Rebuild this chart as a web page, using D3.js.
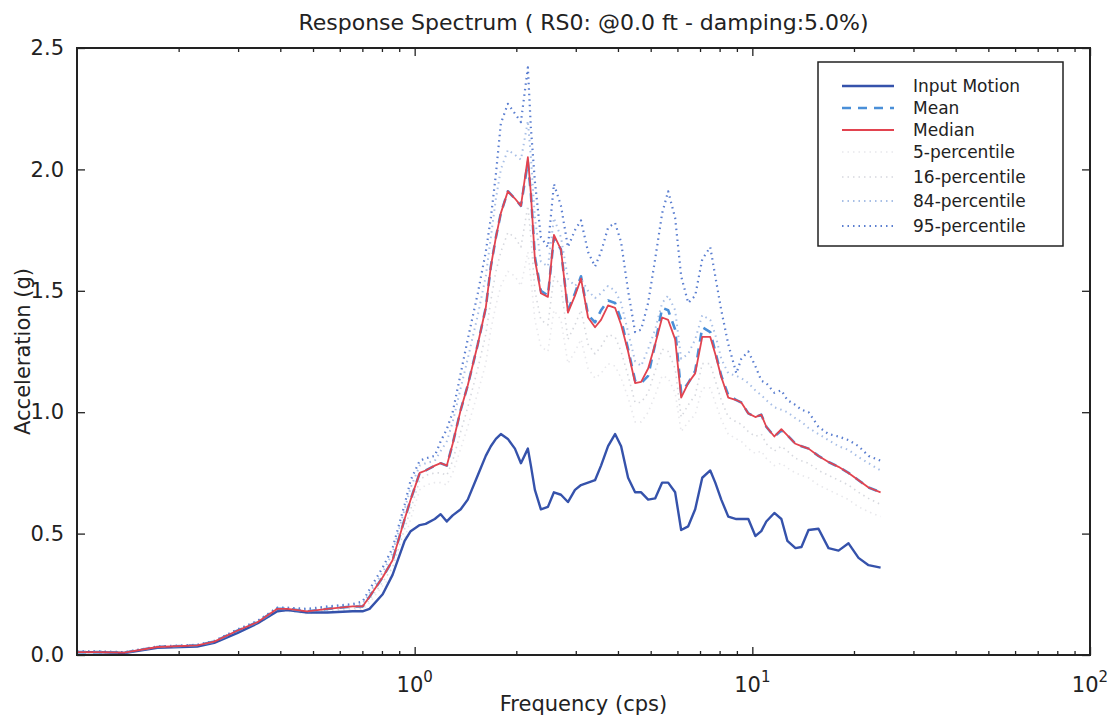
<!DOCTYPE html>
<html>
<head>
<meta charset="utf-8">
<script src="https://cdn.jsdelivr.net/npm/d3@7"></script>
<style>
  body { margin: 0; background: #fff; }
  text { font-family: "DejaVu Sans", Verdana, sans-serif; fill: #222; }
</style>
</head>
<body>
<div id="chart"></div>
<script>
// frequency grid (cps)
var Freq = [0.100, 0.115, 0.138, 0.173, 0.227, 0.255, 0.298, 0.342, 0.392, 0.420, 0.481, 0.552, 0.655, 0.701, 0.735, 0.804, 0.860, 0.934, 0.973, 1.035,
  1.078, 1.147, 1.194, 1.245, 1.296, 1.369, 1.436, 1.538, 1.624, 1.681, 1.740, 1.800, 1.888, 1.981, 2.064, 2.164, 2.209, 2.270, 2.365, 2.481,
  2.585, 2.712, 2.844, 2.984, 3.109, 3.262, 3.421, 3.564, 3.739, 3.922, 4.087, 4.286, 4.496, 4.685, 4.914, 5.154, 5.407, 5.633, 5.908, 6.155,
  6.458, 6.773, 7.107, 7.506, 7.767, 8.091, 8.487, 8.966, 9.277, 9.730, 10.21, 10.63, 11.00, 11.62, 12.19, 12.70, 13.42, 13.98, 14.67, 15.70,
  16.81, 18.00, 19.27, 20.63, 22.09, 23.98]

var InputMotion = [0.012, 0.012, 0.008, 0.030, 0.035, 0.050, 0.090, 0.130, 0.180, 0.185, 0.175, 0.175, 0.180, 0.180, 0.190, 0.250, 0.330, 0.470, 0.510, 0.535,
  0.540, 0.560, 0.580, 0.550, 0.575, 0.600, 0.640, 0.740, 0.820, 0.860, 0.890, 0.910, 0.890, 0.850, 0.790, 0.850, 0.780, 0.680, 0.600, 0.610,
  0.670, 0.660, 0.630, 0.680, 0.700, 0.710, 0.720, 0.780, 0.860, 0.910, 0.860, 0.730, 0.670, 0.670, 0.640, 0.645, 0.710, 0.710, 0.670, 0.515,
  0.530, 0.600, 0.730, 0.760, 0.710, 0.640, 0.570, 0.560, 0.560, 0.560, 0.490, 0.510, 0.550, 0.585, 0.560, 0.470, 0.440, 0.445, 0.515, 0.520,
  0.440, 0.430, 0.460, 0.400, 0.370, 0.360]

var Mean = [0.012, 0.012, 0.010, 0.033, 0.040, 0.055, 0.100, 0.135, 0.190, 0.190, 0.180, 0.190, 0.200, 0.200, 0.240, 0.320, 0.390, 0.560, 0.640, 0.750,
  0.760, 0.780, 0.790, 0.780, 0.870, 1.010, 1.110, 1.280, 1.430, 1.600, 1.720, 1.820, 1.910, 1.880, 1.850, 2.030, 1.900, 1.640, 1.500, 1.480,
  1.720, 1.670, 1.420, 1.490, 1.560, 1.400, 1.370, 1.420, 1.460, 1.450, 1.380, 1.260, 1.130, 1.120, 1.150, 1.280, 1.430, 1.420, 1.340, 1.080,
  1.120, 1.170, 1.350, 1.330, 1.250, 1.150, 1.070, 1.050, 1.040, 0.995, 0.980, 0.990, 0.940, 0.900, 0.925, 0.905, 0.870, 0.860, 0.850, 0.820,
  0.795, 0.775, 0.750, 0.720, 0.690, 0.670]

var Median = [0.012, 0.012, 0.010, 0.033, 0.040, 0.055, 0.100, 0.135, 0.190, 0.190, 0.180, 0.190, 0.200, 0.200, 0.240, 0.320, 0.390, 0.560, 0.640, 0.750,
  0.760, 0.780, 0.790, 0.780, 0.870, 1.010, 1.110, 1.280, 1.430, 1.600, 1.720, 1.820, 1.910, 1.880, 1.850, 2.050, 1.900, 1.630, 1.490, 1.475,
  1.730, 1.670, 1.410, 1.480, 1.550, 1.390, 1.350, 1.380, 1.440, 1.430, 1.360, 1.250, 1.120, 1.125, 1.180, 1.280, 1.390, 1.380, 1.300, 1.060,
  1.120, 1.160, 1.310, 1.310, 1.240, 1.145, 1.060, 1.050, 1.040, 0.995, 0.980, 0.990, 0.940, 0.900, 0.930, 0.905, 0.870, 0.860, 0.850, 0.820,
  0.795, 0.775, 0.750, 0.720, 0.690, 0.670]

var P5 = [0.010, 0.010, 0.008, 0.030, 0.036, 0.050, 0.092, 0.126, 0.178, 0.180, 0.170, 0.178, 0.186, 0.186, 0.215, 0.285, 0.330, 0.480, 0.560, 0.680,
  0.700, 0.710, 0.710, 0.700, 0.750, 0.850, 0.940, 1.080, 1.200, 1.340, 1.440, 1.520, 1.580, 1.560, 1.520, 1.660, 1.550, 1.380, 1.270, 1.250,
  1.420, 1.380, 1.200, 1.250, 1.300, 1.180, 1.140, 1.160, 1.200, 1.190, 1.140, 1.060, 0.960, 0.960, 1.000, 1.070, 1.150, 1.140, 1.080, 0.920,
  0.960, 0.990, 1.100, 1.100, 1.040, 0.970, 0.910, 0.890, 0.880, 0.850, 0.830, 0.840, 0.810, 0.780, 0.790, 0.770, 0.750, 0.740, 0.730, 0.700,
  0.680, 0.660, 0.640, 0.610, 0.590, 0.570]

var P16 = [0.011, 0.011, 0.009, 0.031, 0.038, 0.052, 0.096, 0.130, 0.184, 0.185, 0.175, 0.184, 0.193, 0.193, 0.228, 0.300, 0.360, 0.520, 0.600, 0.720,
  0.740, 0.750, 0.750, 0.740, 0.800, 0.920, 1.020, 1.180, 1.320, 1.460, 1.580, 1.660, 1.740, 1.720, 1.680, 1.850, 1.720, 1.500, 1.380, 1.360,
  1.560, 1.520, 1.300, 1.360, 1.420, 1.280, 1.240, 1.270, 1.320, 1.310, 1.250, 1.150, 1.040, 1.040, 1.080, 1.170, 1.260, 1.250, 1.180, 0.980,
  1.030, 1.070, 1.200, 1.200, 1.130, 1.050, 0.980, 0.960, 0.950, 0.920, 0.900, 0.910, 0.870, 0.840, 0.860, 0.840, 0.810, 0.800, 0.790, 0.760,
  0.740, 0.720, 0.700, 0.670, 0.645, 0.620]

var P84 = [0.013, 0.013, 0.011, 0.034, 0.041, 0.057, 0.103, 0.138, 0.193, 0.193, 0.186, 0.196, 0.206, 0.210, 0.255, 0.340, 0.420, 0.600, 0.690, 0.780,
  0.790, 0.800, 0.840, 0.880, 0.960, 1.100, 1.220, 1.400, 1.560, 1.720, 1.880, 2.000, 2.080, 2.060, 2.040, 2.200, 2.050, 1.800, 1.620, 1.600,
  1.800, 1.720, 1.550, 1.520, 1.550, 1.500, 1.470, 1.490, 1.520, 1.500, 1.450, 1.330, 1.210, 1.190, 1.260, 1.340, 1.450, 1.480, 1.420, 1.220,
  1.240, 1.300, 1.400, 1.380, 1.320, 1.220, 1.160, 1.150, 1.140, 1.120, 1.090, 1.070, 1.050, 1.020, 1.010, 1.000, 0.975, 0.960, 0.935, 0.910,
  0.885, 0.860, 0.845, 0.815, 0.790, 0.760]

var P95 = [0.015, 0.015, 0.012, 0.035, 0.042, 0.058, 0.105, 0.140, 0.195, 0.195, 0.190, 0.200, 0.210, 0.220, 0.270, 0.360, 0.440, 0.620, 0.720, 0.800,
  0.810, 0.820, 0.880, 0.930, 1.000, 1.160, 1.300, 1.490, 1.660, 1.800, 1.980, 2.190, 2.270, 2.230, 2.195, 2.420, 2.170, 1.950, 1.720, 1.680,
  1.940, 1.850, 1.680, 1.750, 1.790, 1.660, 1.600, 1.660, 1.760, 1.780, 1.700, 1.500, 1.330, 1.340, 1.450, 1.630, 1.820, 1.910, 1.800, 1.560,
  1.450, 1.480, 1.630, 1.680, 1.560, 1.420, 1.280, 1.160, 1.220, 1.250, 1.190, 1.130, 1.120, 1.080, 1.090, 1.050, 1.030, 1.010, 1.000, 0.940,
  0.910, 0.900, 0.885, 0.860, 0.820, 0.800]

var YTicks = [0.0, 0.5, 1.0, 1.5, 2.0, 2.5]
var XDecades = [0, 1, 2]

var Series = [
  {name: "Input Motion", values: InputMotion, color: "#3552ab", width: 2.4, dash: null},
  {name: "Mean", values: Mean, color: "#4a8fd8", width: 2.6, dash: "9,7"},
  {name: "Median", values: Median, color: "#e2434f", width: 1.8, dash: null},
  {name: "5-percentile", values: P5, color: "#e8e8ec", width: 1.6, dash: "1.5,4"},
  {name: "16-percentile", values: P16, color: "#d6d8de", width: 1.6, dash: "1.5,4"},
  {name: "84-percentile", values: P84, color: "#a8bfe6", width: 2, dash: "1.5,4"},
  {name: "95-percentile", values: P95, color: "#5a7ed0", width: 2.2, dash: "1.5,4"}
]

var W = 1110, H = 718
var margin = {top: 48, right: 20, bottom: 63, left: 77}
var width = W - margin.left - margin.right
var height = H - margin.top - margin.bottom

var svg = d3.select("#chart").append("svg")
  .attr("width", W)
  .attr("height", H)

var g = svg.append("g")
  .attr("transform", "translate(" + margin.left + "," + margin.top + ")")

var x = d3.scaleLog().domain([0.1, 100]).range([0, width])
var y = d3.scaleLinear().domain([0, 2.5]).range([height, 0])

// lines, faint ones first so the solid ones sit on top
var drawOrder = [3, 4, 5, 6, 0, 1, 2]
var line = d3.line()
  .x((d, i) => x(Freq[i]))
  .y(d => y(d))

drawOrder.forEach(k => {
  var s = Series[k]
  g.append("path")
    .datum(s.values)
    .attr("fill", "none")
    .attr("stroke", s.color)
    .attr("stroke-width", s.width)
    .attr("stroke-dasharray", s.dash)
    .attr("stroke-linejoin", "round")
    .attr("d", line)
})

// frame
g.append("rect")
  .attr("width", width)
  .attr("height", height)
  .attr("fill", "none")
  .attr("stroke", "#222")
  .attr("stroke-width", 2)

// x ticks (inward, top and bottom)
var minor = []
for (var e = -1; e < 2; e++) {
  for (var m = 2; m < 10; m++) minor.push(m * Math.pow(10, e))
}
var major = XDecades.map(d => Math.pow(10, d))

g.append("g")
  .attr("transform", "translate(0," + height + ")")
  .call(d3.axisBottom(x).tickValues(minor).tickSize(-4).tickFormat(""))
  .call(a => a.select(".domain").remove())
g.append("g")
  .call(d3.axisTop(x).tickValues(minor).tickSize(-4).tickFormat(""))
  .call(a => a.select(".domain").remove())
g.append("g")
  .attr("transform", "translate(0," + height + ")")
  .call(d3.axisBottom(x).tickValues(major).tickSize(-8).tickFormat(""))
  .call(a => a.select(".domain").remove())
g.append("g")
  .call(d3.axisTop(x).tickValues(major).tickSize(-8).tickFormat(""))
  .call(a => a.select(".domain").remove())

g.selectAll("line").attr("stroke", "#222").attr("stroke-width", 1.3)

// x tick labels 10^n
var xl = g.append("g").selectAll("text")
  .data(XDecades)
  .enter()
  .append("text")
  .attr("x", d => x(Math.pow(10, d)))
  .attr("y", height + 37)
  .attr("text-anchor", "middle")
  .style("font-size", "21px")
xl.append("tspan").text("10")
xl.append("tspan").attr("dy", -10).style("font-size", "15px").text(d => d)

// y ticks left and right
g.append("g")
  .call(d3.axisLeft(y).tickValues(YTicks).tickSize(-8).tickFormat(d3.format(".1f")).tickPadding(13))
  .call(a => a.select(".domain").remove())
  .call(a => a.selectAll("text").style("font-size", "21px").attr("fill", "#222").attr("font-family", "DejaVu Sans"))
g.append("g")
  .attr("transform", "translate(" + width + ",0)")
  .call(d3.axisRight(y).tickValues(YTicks).tickSize(-8).tickFormat(""))
  .call(a => a.select(".domain").remove())

g.selectAll(".tick line").attr("stroke", "#222").attr("stroke-width", 1.3)

// titles
svg.append("text")
  .attr("x", margin.left + width / 2)
  .attr("y", 30)
  .attr("text-anchor", "middle")
  .style("font-size", "22px")
  .text("Response Spectrum ( RS0: @0.0 ft - damping:5.0%)")

svg.append("text")
  .attr("x", margin.left + width / 2)
  .attr("y", 711)
  .attr("text-anchor", "middle")
  .style("font-size", "21px")
  .text("Frequency (cps)")

svg.append("text")
  .attr("transform", "translate(30," + (margin.top + height / 2) + ") rotate(-90)")
  .attr("text-anchor", "middle")
  .style("font-size", "21px")
  .text("Acceleration (g)")

// legend
var legend = svg.append("g").attr("transform", "translate(818,62)")
legend.append("rect")
  .attr("width", 245)
  .attr("height", 184)
  .attr("fill", "#fff")
  .attr("stroke", "#222")
  .attr("stroke-width", 1.5)

var rowY = [24, 46, 68, 90, 115, 139, 164]
Series.forEach((s, i) => {
  legend.append("line")
    .attr("x1", 24).attr("x2", 76)
    .attr("y1", rowY[i]).attr("y2", rowY[i])
    .attr("stroke", s.color)
    .attr("stroke-width", s.width)
    .attr("stroke-dasharray", s.dash)
  legend.append("text")
    .attr("x", 95)
    .attr("y", rowY[i] + 6)
    .style("font-size", "17px")
    .text(s.name)
})
</script>
</body>
</html>
